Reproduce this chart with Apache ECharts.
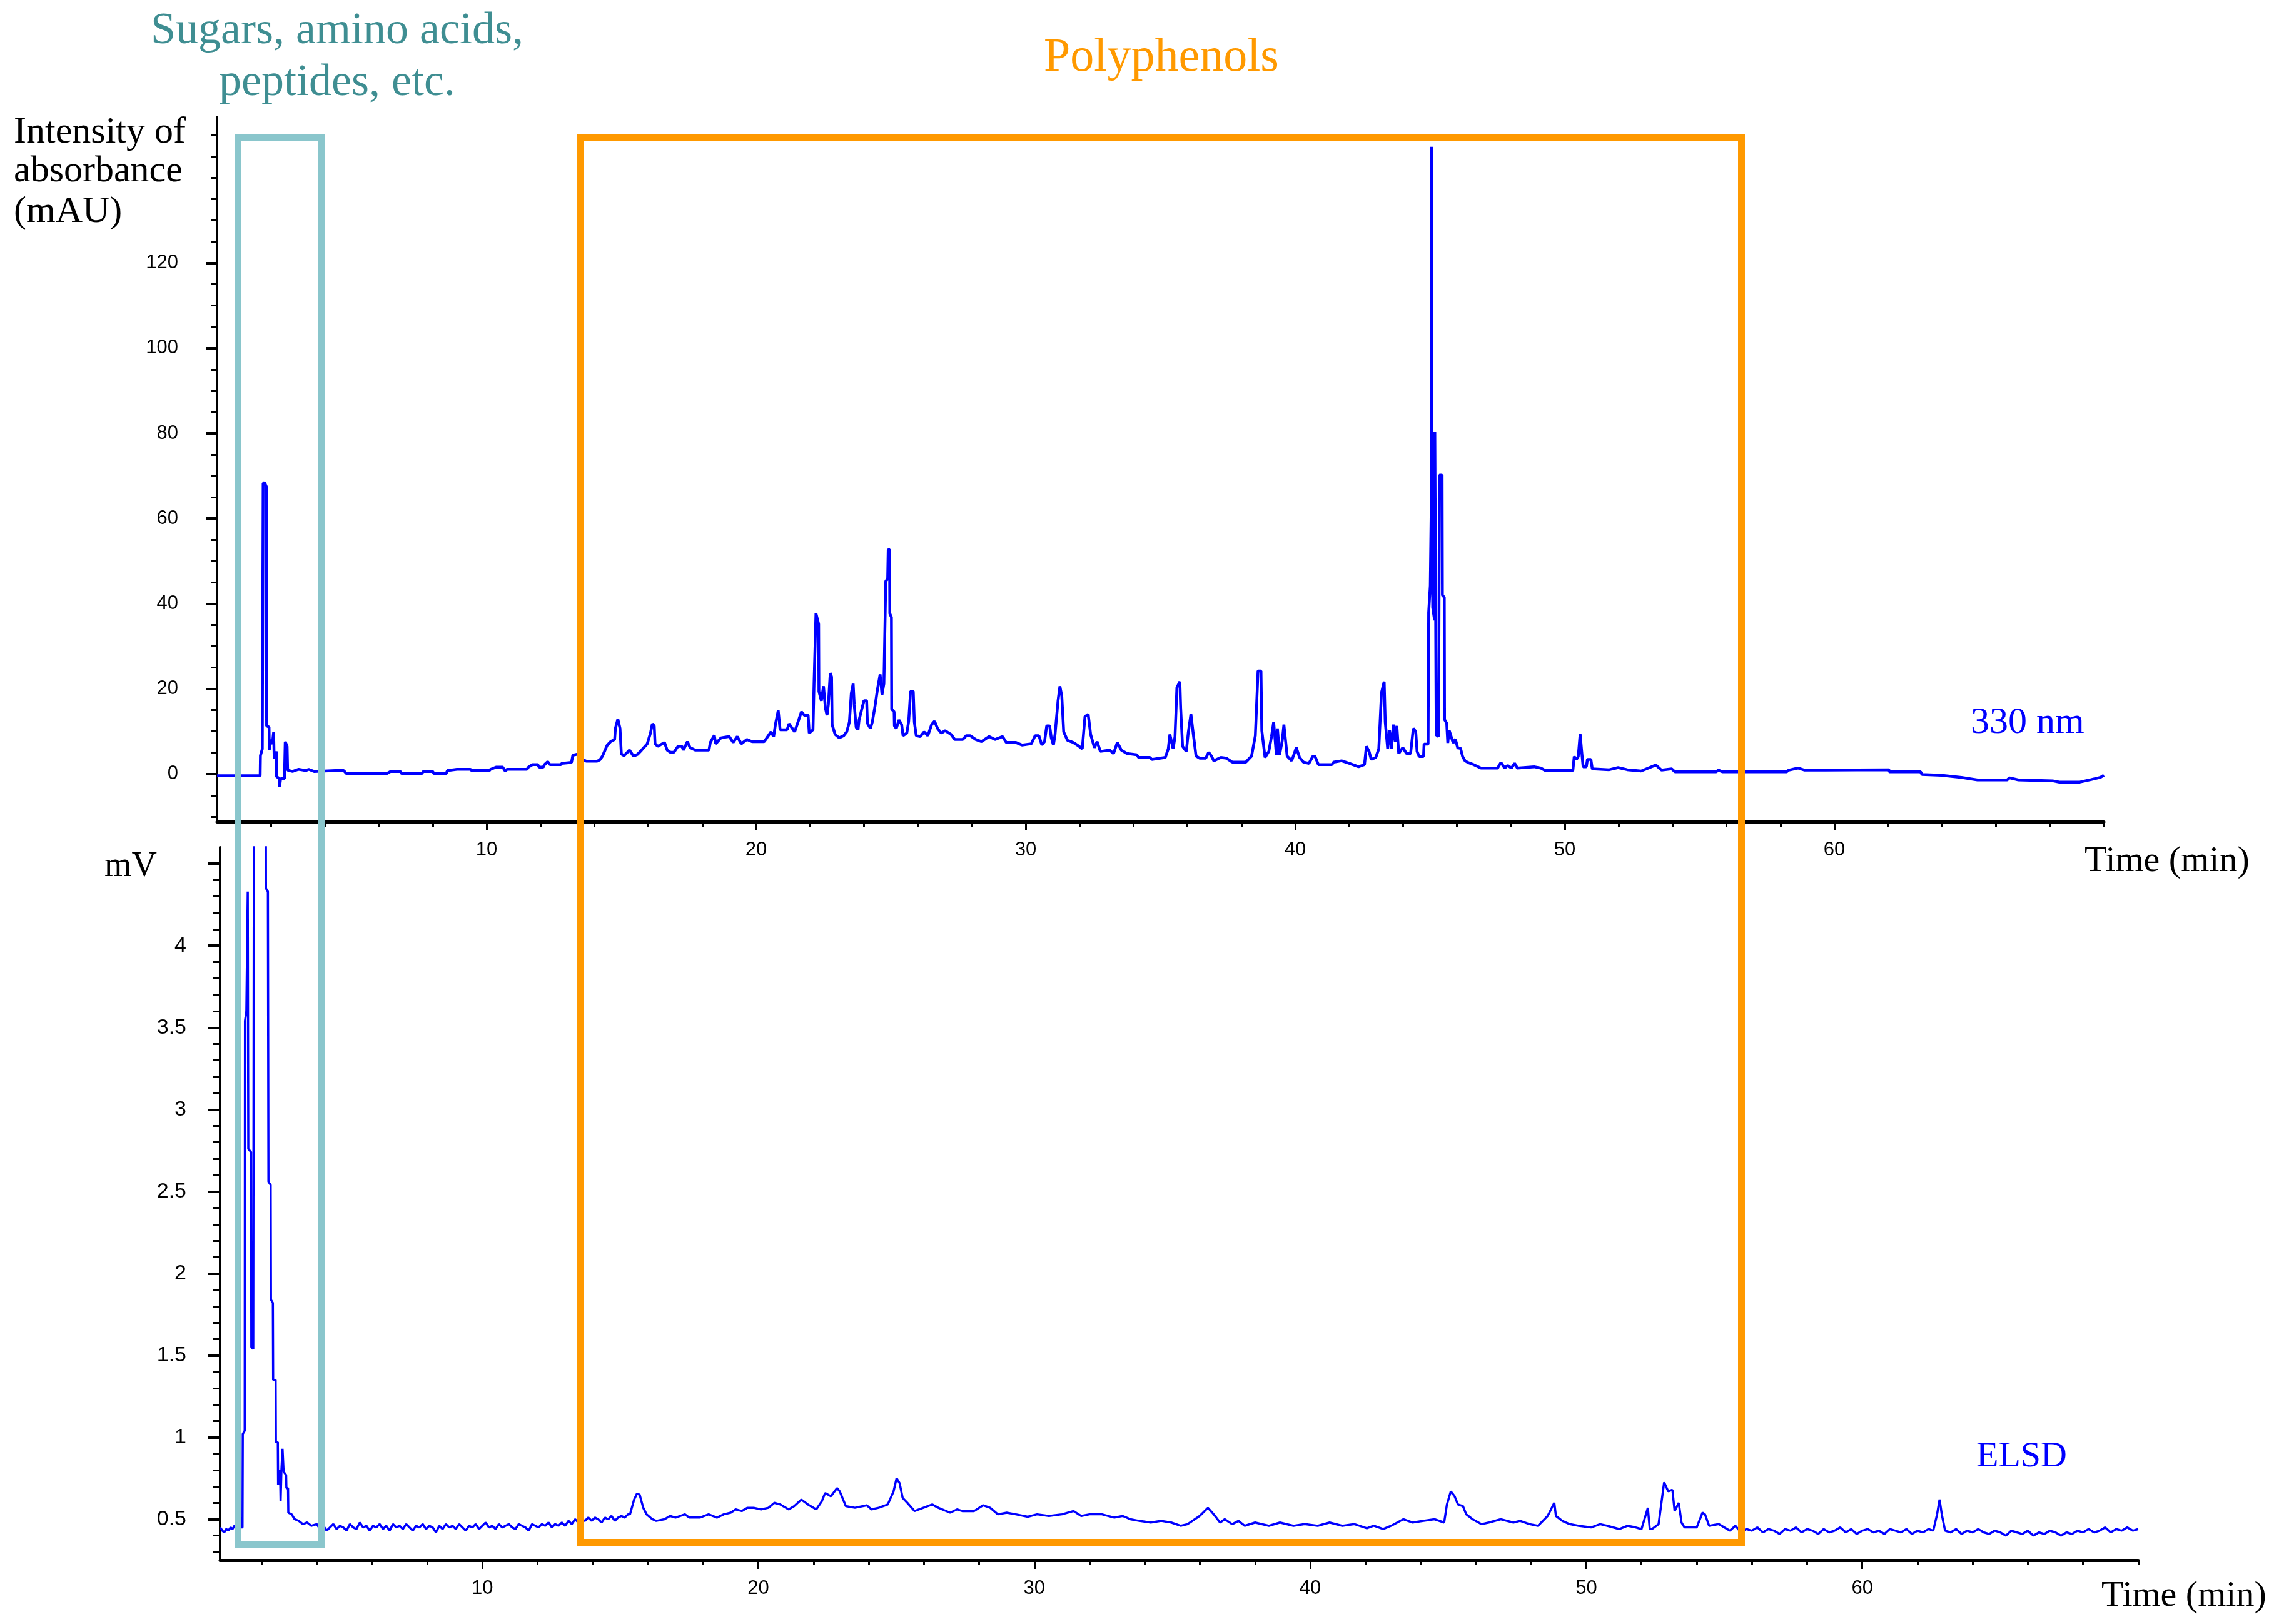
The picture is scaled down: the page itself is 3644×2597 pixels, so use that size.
<!DOCTYPE html>
<html>
<head>
<meta charset="utf-8">
<script src="https://cdn.jsdelivr.net/npm/echarts@6/dist/echarts.min.js"></script>
<style>
  html, body { margin: 0; padding: 0; background: #fff; }
  #chart { width: 3644px; height: 2597px; }
</style>
</head>
<body>
<div id="chart"></div>
<script>
// 330 nm trace (time in min, absorbance in mAU)
const uvTime = [
  0.0, 1.6, 1.61, 1.68, 1.71, 1.76, 1.83, 1.84, 1.93, 1.94, 2.0, 2.05, 2.1, 2.12, 2.2, 2.21, 2.3, 2.32, 2.36, 2.5,
  2.53, 2.6, 2.62, 2.8, 3.03, 3.3, 3.4, 3.6, 4.38, 4.7, 4.8, 6.3, 6.44, 6.8, 6.85, 7.6, 7.65, 8.0, 8.05, 8.5,
  8.55, 8.9, 9.4, 9.45, 10.1, 10.15, 10.35, 10.6, 10.7, 10.75, 11.5, 11.55, 11.7, 11.9, 11.95, 12.1, 12.15, 12.27, 12.35, 12.75,
  12.8, 13.15, 13.2, 13.4, 13.5, 13.7, 14.1, 14.2, 14.3, 14.47, 14.6, 14.75, 14.78, 14.87, 14.95, 15.0, 15.1, 15.3, 15.45, 15.6,
  15.75, 15.96, 16.08, 16.15, 16.22, 16.25, 16.35, 16.6, 16.7, 16.82, 16.95, 17.1, 17.25, 17.3, 17.45, 17.55, 17.74, 18.25, 18.3, 18.45,
  18.5, 18.7, 19.0, 19.15, 19.3, 19.45, 19.66, 19.85, 20.3, 20.4, 20.55, 20.65, 20.72, 20.82, 20.89, 21.15, 21.22, 21.43, 21.58, 21.68,
  21.79, 21.93, 21.97, 22.11, 22.15, 22.22, 22.32, 22.33, 22.42, 22.5, 22.57, 22.63, 22.68, 22.75, 22.8, 22.82, 22.93, 23.08, 23.25, 23.36,
  23.46, 23.53, 23.6, 23.64, 23.71, 23.78, 23.82, 23.91, 24.0, 24.1, 24.13, 24.24, 24.31, 24.41, 24.5, 24.6, 24.67, 24.74, 24.81, 24.88,
  24.9, 24.95, 24.96, 25.02, 25.03, 25.12, 25.13, 25.2, 25.3, 25.4, 25.45, 25.59, 25.66, 25.73, 25.83, 25.87, 25.94, 26.09, 26.23, 26.37,
  26.51, 26.62, 26.73, 26.87, 27.01, 27.23, 27.37, 27.66, 27.8, 27.94, 28.15, 28.36, 28.64, 28.86, 29.14, 29.28, 29.64, 29.86, 30.21, 30.35,
  30.49, 30.6, 30.7, 30.78, 30.89, 30.95, 31.03, 31.09, 31.2, 31.27, 31.34, 31.41, 31.55, 31.77, 31.98, 32.1, 32.2, 32.32, 32.41, 32.55,
  32.65, 32.77, 33.12, 33.26, 33.4, 33.55, 33.76, 34.12, 34.19, 34.61, 34.68, 35.18, 35.29, 35.35, 35.47, 35.54, 35.61, 35.72, 35.75, 35.82,
  35.96, 36.03, 36.13, 36.22, 36.32, 36.46, 36.68, 36.79, 36.89, 36.98, 37.24, 37.45, 37.66, 38.17, 38.38, 38.52, 38.62, 38.73, 38.76, 38.88,
  39.02, 39.12, 39.2, 39.3, 39.34, 39.42, 39.52, 39.58, 39.7, 39.87, 40.04, 40.16, 40.3, 40.51, 40.66, 40.73, 40.86, 41.36, 41.43, 41.72,
  42.0, 42.35, 42.57, 42.64, 42.74, 42.82, 42.99, 43.1, 43.2, 43.3, 43.34, 43.43, 43.5, 43.57, 43.64, 43.71, 43.77, 43.84, 43.99, 44.13,
  44.28, 44.38, 44.47, 44.52, 44.6, 44.76, 44.78, 44.93, 44.95, 45.01, 45.04, 45.06, 45.08, 45.1, 45.17, 45.18, 45.22, 45.23, 45.32, 45.35,
  45.45, 45.46, 45.53, 45.54, 45.62, 45.66, 45.71, 45.79, 45.86, 45.94, 46.03, 46.13, 46.21, 46.3, 46.41, 46.58, 46.89, 47.51, 47.63, 47.77,
  47.88, 48.02, 48.14, 48.24, 48.86, 49.11, 49.28, 50.3, 50.35, 50.43, 50.5, 50.57, 50.63, 50.68, 50.8, 50.84, 50.97, 51.02, 51.65, 51.98,
  52.32, 52.83, 53.38, 53.59, 53.97, 54.09, 55.61, 55.7, 55.86, 58.23, 58.31, 58.65, 58.9, 59.66, 59.7, 62.02, 62.05, 63.2, 63.25, 63.96,
  64.72, 65.31, 66.41, 66.5, 66.83, 68.1, 68.35, 69.11, 69.53, 69.87, 70.0
];
const uvSignal = [
  -0.4, -0.4, 4.3, 5.9, 68.2, 68.5, 67.5, 11.3, 11.0, 5.7, 8.1, 7.0, 9.8, 3.6, 5.3, -0.6, -1.0, -3.1, -1.1, -1.1,
  7.6, 6.5, 0.9, 0.6, 1.1, 0.8, 1.1, 0.6, 0.8, 0.8, 0.1, 0.1, 0.6, 0.6, 0.1, 0.1, 0.6, 0.6, 0.1, 0.1,
  0.8, 1.1, 1.1, 0.8, 0.8, 1.1, 1.6, 1.6, 0.6, 1.1, 1.1, 1.6, 2.2, 2.2, 1.6, 1.6, 2.2, 2.9, 2.2, 2.2,
  2.5, 2.7, 4.4, 4.7, 3.6, 3.0, 3.0, 3.3, 4.2, 6.7, 7.6, 8.1, 10.7, 12.9, 10.7, 4.7, 4.3, 5.6, 4.2, 4.6,
  5.6, 7.1, 9.6, 11.8, 11.3, 7.1, 6.5, 7.4, 5.6, 5.1, 5.1, 6.5, 6.5, 5.6, 7.6, 6.2, 5.6, 5.6, 7.4, 9.1,
  7.1, 8.5, 8.8, 7.4, 8.8, 7.1, 8.1, 7.6, 7.6, 8.5, 9.9, 8.8, 11.8, 14.9, 10.4, 10.4, 11.8, 9.9, 12.7, 14.6,
  13.8, 13.8, 9.6, 10.4, 21.6, 37.7, 35.2, 19.4, 17.2, 20.6, 15.5, 13.8, 16.3, 23.7, 22.8, 11.6, 9.3, 8.5, 9.0, 9.9,
  12.2, 18.9, 21.2, 16.3, 11.0, 10.4, 12.7, 15.0, 17.2, 17.2, 11.9, 10.7, 12.2, 15.9, 19.8, 23.4, 18.6, 21.2, 45.3, 45.8,
  52.7, 52.7, 37.7, 36.8, 15.2, 14.6, 11.3, 10.7, 12.7, 11.6, 9.0, 9.6, 12.4, 19.4, 19.4, 12.2, 9.0, 8.8, 9.9, 9.0,
  11.6, 12.4, 10.7, 9.6, 10.2, 9.3, 8.1, 8.1, 9.0, 9.0, 8.1, 7.6, 8.8, 8.1, 8.8, 7.4, 7.4, 6.8, 7.1, 9.0,
  9.0, 6.8, 7.6, 11.3, 11.3, 8.5, 6.8, 9.3, 17.2, 20.6, 18.3, 9.9, 7.9, 7.4, 6.5, 5.9, 13.5, 14.0, 9.3, 6.2,
  7.6, 5.3, 5.6, 4.8, 7.4, 5.6, 4.8, 4.5, 3.9, 3.9, 3.4, 3.9, 5.9, 9.3, 5.9, 8.8, 20.3, 21.7, 15.5, 6.5,
  5.3, 9.6, 14.1, 9.3, 4.2, 3.7, 3.7, 5.1, 4.2, 3.1, 3.9, 3.7, 2.8, 2.8, 4.2, 9.0, 24.2, 24.2, 10.2, 3.9,
  5.3, 8.8, 12.2, 4.5, 10.7, 4.5, 7.9, 11.6, 4.2, 3.1, 6.2, 3.9, 2.8, 2.5, 4.2, 4.2, 2.2, 2.2, 2.8, 3.1,
  2.5, 1.7, 2.2, 6.5, 5.3, 3.4, 3.9, 5.9, 19.1, 21.7, 12.2, 5.9, 10.2, 5.9, 11.6, 7.6, 11.3, 4.8, 6.2, 4.8,
  4.8, 10.7, 10.0, 5.3, 4.1, 4.1, 7.0, 7.0, 37.9, 44.2, 60.0, 147.3, 60.0, 39.1, 36.1, 80.3, 80.3, 9.2, 8.8, 70.2,
  70.2, 42.0, 41.5, 12.8, 11.9, 7.3, 10.3, 8.7, 7.3, 8.2, 6.1, 6.1, 4.1, 3.1, 2.7, 2.3, 1.4, 1.4, 2.7, 1.4,
  2.0, 1.4, 2.5, 1.4, 1.7, 1.4, 0.8, 0.8, 4.1, 3.4, 4.1, 9.4, 5.1, 1.7, 1.7, 3.4, 3.4, 1.2, 1.0, 1.5,
  1.0, 0.7, 2.1, 0.9, 1.2, 0.5, 0.5, 0.9, 0.5, 0.5, 0.9, 1.4, 0.9, 0.9, 1.0, 1.0, 0.5, 0.5, -0.1, -0.3,
  -0.8, -1.4, -1.4, -0.9, -1.4, -1.6, -1.9, -1.9, -1.3, -0.8, -0.3
];

// ELSD trace (time in min, signal in mV)
const elsdTime = [
  0.5, 0.58, 0.65, 0.72, 0.8, 0.88, 0.95, 1.02, 1.1, 1.2,
  1.31, 1.32, 1.39, 1.4, 1.45, 1.5, 1.52, 1.62, 1.63, 1.7,
  1.73, 2.14, 2.16, 2.23, 2.25, 2.33, 2.34, 2.41, 2.42, 2.51,
  2.52, 2.59, 2.6, 2.67, 2.69, 2.72, 2.76, 2.8, 2.89, 2.9,
  2.96, 2.97, 3.09, 3.2, 3.35, 3.5, 3.65, 3.8,
  4.0, 4.12, 4.24, 4.36, 4.48, 4.6, 4.72, 4.84, 4.96, 5.08,
  5.2, 5.32, 5.44, 5.56, 5.68, 5.8, 5.92, 6.04, 6.16, 6.28,
  6.4, 6.52, 6.64, 6.76, 6.88, 7.0, 7.12, 7.24, 7.36, 7.48,
  7.6, 7.72, 7.84, 7.96, 8.08, 8.2, 8.32, 8.44, 8.56, 8.68,
  8.8, 8.92, 9.04, 9.16, 9.28, 9.4, 9.52, 9.64, 9.76, 9.88,
  10.0, 10.12, 10.24, 10.36, 10.48, 10.6, 10.72, 10.84, 10.96, 11.08,
  11.2, 11.32, 11.44, 11.56, 11.68, 11.8, 11.92, 12.04, 12.16, 12.28,
  12.4, 12.52, 12.64, 12.76, 12.88, 13.0, 13.12, 13.24,
  13.36, 13.48, 13.6, 13.72, 13.84, 13.96, 14.08, 14.2, 14.32, 14.44,
  14.56, 14.68, 14.8, 14.92, 15.04, 15.16, 15.28,
  15.35, 15.5, 15.6, 15.7, 15.83, 15.95, 16.16, 16.3, 16.6, 16.8,
  17.0, 17.34, 17.5, 17.88, 18.2, 18.5, 18.75, 19.0, 19.18, 19.4,
  19.6, 19.83, 20.1, 20.37, 20.58, 20.8, 21.1, 21.3, 21.56, 21.8,
  22.1, 22.3, 22.42, 22.63, 22.85, 22.95, 23.17, 23.5, 23.93, 24.1,
  24.36, 24.69, 24.9, 25.01, 25.12, 25.23, 25.4, 25.66, 25.98, 26.3,
  26.52, 26.95, 27.2, 27.39, 27.82, 28.14, 28.4, 28.68, 29.0, 29.33,
  29.76, 30.1, 30.53, 31.0, 31.42, 31.7, 32.0, 32.45, 32.9, 33.2,
  33.48, 33.8, 34.22, 34.6, 34.96, 35.3, 35.55, 35.99, 36.29, 36.5,
  36.73, 36.9, 37.17, 37.4, 37.62, 38.0, 38.5, 38.9, 39.39, 39.8,
  40.27, 40.7, 41.16, 41.6, 42.05, 42.3, 42.64, 42.93, 43.37, 43.7,
  44.11, 44.5, 44.85, 44.95, 45.09, 45.23, 45.35, 45.53, 45.65, 45.88,
  46.2, 46.47, 46.9, 47.36, 47.6, 47.95, 48.25, 48.6, 48.84, 48.9,
  49.13, 49.4, 49.72, 50.17, 50.5, 50.76, 51.2, 51.5, 51.79, 52.0,
  52.23, 52.3, 52.38, 52.62, 52.82, 52.97, 53.12, 53.2, 53.35, 53.45,
  53.56, 54.0, 54.21, 54.3, 54.45, 54.8,
  55.0, 55.2, 55.4, 55.6, 55.8, 56.0, 56.2, 56.4, 56.6, 56.8,
  57.0, 57.2, 57.4, 57.6, 57.8, 58.0, 58.2, 58.4, 58.6, 58.8,
  59.0, 59.2, 59.4, 59.6, 59.8, 60.0, 60.2, 60.4, 60.6, 60.8,
  61.0, 61.2, 61.4, 61.6, 61.8, 62.0, 62.2, 62.4,
  62.57, 62.71, 62.8, 62.88, 63.0,
  63.2, 63.4, 63.6, 63.8, 64.0, 64.2, 64.4, 64.6, 64.8, 65.0,
  65.2, 65.4, 65.6, 65.8, 66.0, 66.2, 66.4, 66.6, 66.8, 67.0,
  67.2, 67.4, 67.6, 67.8, 68.0, 68.2, 68.4, 68.6, 68.8, 69.0,
  69.2, 69.4, 69.6, 69.8, 70.0
];
const elsdSignal = [
  0.45, 0.43, 0.42, 0.44, 0.43, 0.45, 0.44, 0.46, 0.44, 0.45,
  0.45, 1.02, 1.04, 3.54, 3.6, 4.33, 2.76, 2.74, 1.55, 1.54,
  6.0, 6.0, 4.35, 4.33, 2.56, 2.54, 1.84, 1.82, 1.35, 1.35,
  0.97, 0.97, 0.71, 0.8, 0.61, 0.8, 0.93, 0.79, 0.77, 0.69,
  0.69, 0.54, 0.53, 0.5, 0.49, 0.47, 0.48, 0.46,
  0.47, 0.44, 0.46, 0.43, 0.45, 0.47, 0.44, 0.46, 0.45, 0.43,
  0.47, 0.45, 0.44, 0.48, 0.45, 0.46, 0.43, 0.46, 0.45, 0.47,
  0.44, 0.46, 0.43, 0.47, 0.45, 0.46, 0.44, 0.47, 0.45, 0.43,
  0.46, 0.45, 0.47, 0.44, 0.46, 0.45, 0.42, 0.46, 0.44, 0.47,
  0.45, 0.46, 0.44, 0.47, 0.45, 0.43, 0.46, 0.45, 0.47, 0.44,
  0.46, 0.48, 0.45, 0.46, 0.44, 0.47, 0.45, 0.46, 0.47, 0.45,
  0.44, 0.47, 0.46, 0.45, 0.43, 0.47, 0.46, 0.45, 0.47, 0.46,
  0.48, 0.45, 0.47, 0.46, 0.48, 0.46, 0.49, 0.47,
  0.5, 0.48, 0.5, 0.49, 0.51, 0.49, 0.51, 0.5, 0.48, 0.51,
  0.5, 0.52, 0.49, 0.51, 0.52, 0.51, 0.53,
  0.53, 0.62, 0.655, 0.65, 0.57, 0.53, 0.5, 0.49, 0.5, 0.52,
  0.51, 0.53, 0.51, 0.51, 0.53, 0.51, 0.53, 0.54, 0.56, 0.55,
  0.57, 0.57, 0.56, 0.57, 0.6, 0.59, 0.56, 0.58, 0.62, 0.59,
  0.56, 0.61, 0.66, 0.64, 0.69, 0.67, 0.58, 0.57, 0.585, 0.56,
  0.57, 0.59, 0.67, 0.75, 0.72, 0.63, 0.6, 0.55, 0.57, 0.59,
  0.57, 0.54, 0.56, 0.55, 0.55, 0.585, 0.57, 0.53, 0.54, 0.53,
  0.515, 0.53, 0.52, 0.53, 0.55, 0.52, 0.53, 0.53, 0.51, 0.52,
  0.5, 0.49, 0.48, 0.49, 0.48, 0.46, 0.47, 0.52, 0.57, 0.53,
  0.48, 0.5, 0.47, 0.49, 0.46, 0.48, 0.46, 0.48, 0.46, 0.47,
  0.46, 0.48, 0.46, 0.47, 0.445, 0.46, 0.44, 0.46, 0.5, 0.48,
  0.49, 0.5, 0.48, 0.59, 0.67, 0.64, 0.59, 0.58, 0.53, 0.5,
  0.47, 0.48, 0.5, 0.48, 0.49, 0.47, 0.46, 0.52, 0.6, 0.52,
  0.49, 0.47, 0.46, 0.45, 0.47, 0.46, 0.44, 0.46, 0.45, 0.44,
  0.57, 0.44, 0.44, 0.47, 0.725, 0.67, 0.68, 0.55, 0.6, 0.48,
  0.45, 0.45, 0.54, 0.53, 0.46, 0.47,
  0.45, 0.43, 0.46, 0.42, 0.44, 0.43, 0.45, 0.42, 0.44, 0.43,
  0.41, 0.44, 0.43, 0.45, 0.42, 0.44, 0.43, 0.41, 0.44, 0.42,
  0.43, 0.45, 0.42, 0.44, 0.41, 0.43, 0.44, 0.42, 0.43, 0.41,
  0.44, 0.43, 0.42, 0.44, 0.41, 0.43, 0.42, 0.44,
  0.43, 0.53, 0.62, 0.53, 0.43,
  0.42, 0.44, 0.41, 0.43, 0.42, 0.44, 0.42, 0.41, 0.43, 0.42,
  0.4, 0.43, 0.42, 0.41, 0.43, 0.4, 0.42, 0.41, 0.43, 0.42,
  0.4, 0.42, 0.41, 0.43, 0.42, 0.44, 0.42, 0.43, 0.45, 0.42,
  0.44, 0.43, 0.45, 0.43, 0.44
];

// axis ticks and labels
const uvMajorTicks = [0, 20, 40, 60, 80, 100, 120];
const elsdMajorTicks = [0.5, 1, 1.5, 2, 2.5, 3, 3.5, 4, 4.5];
const elsdTickLabels = [0.5, 1, 1.5, 2, 2.5, 3, 3.5, 4];
const timeMajorTicks = [10, 20, 30, 40, 50, 60];

const uvMinorTicks = [];
for (let v = -10; v <= 150; v += 5) uvMinorTicks.push(v);
const elsdMinorTicks = [];
for (let i = 3; i <= 45; i++) elsdMinorTicks.push(i / 10);
const timeMinorTicks = [];
for (let t = 2; t <= 70; t += 2) timeMinorTicks.push(t);

const uvData = uvTime.map((t, i) => [t, uvSignal[i]]);
const elsdData = elsdTime.map((t, i) => [t, elsdSignal[i]]);

const blue = "#0000ff";
const labelFont = { color: "#000", fontFamily: "Liberation Sans, Arial, sans-serif" };
const serif = "Liberation Serif, Times New Roman, serif";

function majorX(grid, min) {
  return {
    type: "value", gridIndex: grid, min, max: 70, position: "bottom",
    axisLine: { onZero: false, lineStyle: { color: "#000", width: 5 } },
    axisTick: { customValues: timeMajorTicks, length: 14, lineStyle: { color: "#000", width: 3 } },
    axisLabel: { customValues: timeMajorTicks, fontSize: 31, margin: 30, ...labelFont },
    splitLine: { show: false },
  };
}
function minorX(grid, min) {
  return {
    type: "value", gridIndex: grid, min, max: 70, position: "bottom",
    axisLine: { show: false, onZero: false },
    axisTick: { customValues: timeMinorTicks, length: 8, lineStyle: { color: "#000", width: 3 } },
    axisLabel: { show: false },
    splitLine: { show: false },
  };
}
function minorY(grid, min, max, ticks, len) {
  return {
    type: "value", gridIndex: grid, min, max, position: "left",
    axisLine: { show: false, onZero: false },
    axisTick: { show: true, customValues: ticks, length: len, lineStyle: { color: "#000", width: 3 } },
    axisLabel: { show: false },
    splitLine: { show: false },
  };
}

const chart = echarts.init(document.getElementById("chart"), null, { renderer: "canvas" });
chart.setOption({
  animation: false,
  backgroundColor: "#fff",
  grid: [
    { left: 347, right: 280, top: 187, bottom: 1283 },
    { left: 352, right: 225, top: 1355, bottom: 102 },
  ],
  xAxis: [majorX(0, 0), minorX(0, 0), majorX(1, 0.5), minorX(1, 0.5)],
  yAxis: [
    {
      type: "value", gridIndex: 0, min: -11.2, max: 154.3, position: "left",
      axisLine: { show: true, onZero: false, lineStyle: { color: "#000", width: 4 } },
      axisTick: { show: true, customValues: uvMajorTicks, length: 18, lineStyle: { color: "#000", width: 4 } },
      axisLabel: { customValues: uvMajorTicks, fontSize: 31, margin: 62, ...labelFont },
      splitLine: { show: false },
    },
    minorY(0, -11.2, 154.3, uvMinorTicks, 9),
    {
      type: "value", gridIndex: 1, min: 0.25, max: 4.6, position: "left",
      axisLine: { show: true, onZero: false, lineStyle: { color: "#000", width: 4 } },
      axisTick: { show: true, customValues: elsdMajorTicks, length: 20, lineStyle: { color: "#000", width: 4 } },
      axisLabel: { customValues: elsdTickLabels, fontSize: 34, margin: 54, formatter: (v) => String(v), ...labelFont },
      splitLine: { show: false },
    },
    minorY(1, 0.25, 4.6, elsdMinorTicks, 12),
  ],
  series: [
    {
      name: "330 nm", type: "line", xAxisIndex: 0, yAxisIndex: 0, data: uvData,
      showSymbol: false, clip: true, lineStyle: { color: blue, width: 4.5 },
    },
    {
      name: "ELSD", type: "line", xAxisIndex: 2, yAxisIndex: 2, data: elsdData,
      showSymbol: false, clip: true, lineStyle: { color: blue, width: 3.5 },
    },
  ],
  graphic: [
    { type: "rect", z: 100, shape: { x: 380.5, y: 219.5, width: 133, height: 2251 },
      style: { fill: "none", stroke: "#8ac6cc", lineWidth: 11 } },
    { type: "rect", z: 100, shape: { x: 928.5, y: 219.5, width: 1856, height: 2247 },
      style: { fill: "none", stroke: "#ff9900", lineWidth: 11 } },
    { type: "text", z: 100, x: 539, y: 50,
      style: { text: "Sugars, amino acids,", fontSize: 72, fontFamily: serif, fill: "#3f8e92", textAlign: "center", textVerticalAlign: "middle" } },
    { type: "text", z: 100, x: 539, y: 133,
      style: { text: "peptides, etc.", fontSize: 72, fontFamily: serif, fill: "#3f8e92", textAlign: "center", textVerticalAlign: "middle" } },
    { type: "text", z: 100, x: 1857, y: 93,
      style: { text: "Polyphenols", fontSize: 76, fontFamily: serif, fill: "#ff9900", textAlign: "center", textVerticalAlign: "middle" } },
    { type: "text", z: 100, x: 22, y: 212,
      style: { text: "Intensity of", fontSize: 60, fontFamily: serif, fill: "#000", textAlign: "left", textVerticalAlign: "middle" } },
    { type: "text", z: 100, x: 22, y: 274,
      style: { text: "absorbance", fontSize: 60, fontFamily: serif, fill: "#000", textAlign: "left", textVerticalAlign: "middle" } },
    { type: "text", z: 100, x: 22, y: 339,
      style: { text: "(mAU)", fontSize: 60, fontFamily: serif, fill: "#000", textAlign: "left", textVerticalAlign: "middle" } },
    { type: "text", z: 100, x: 167, y: 1386,
      style: { text: "mV", fontSize: 56, fontFamily: serif, fill: "#000", textAlign: "left", textVerticalAlign: "middle" } },
    { type: "text", z: 100, x: 3151, y: 1156,
      style: { text: "330 nm", fontSize: 60, fontFamily: serif, fill: blue, textAlign: "left", textVerticalAlign: "middle" } },
    { type: "text", z: 100, x: 3160, y: 2330,
      style: { text: "ELSD", fontSize: 58, fontFamily: serif, fill: blue, textAlign: "left", textVerticalAlign: "middle" } },
    { type: "text", z: 100, x: 3333, y: 1378,
      style: { text: "Time (min)", fontSize: 58, fontFamily: serif, fill: "#000", textAlign: "left", textVerticalAlign: "middle" } },
    { type: "text", z: 100, x: 3360, y: 2553,
      style: { text: "Time (min)", fontSize: 58, fontFamily: serif, fill: "#000", textAlign: "left", textVerticalAlign: "middle" } },
  ],
});
window.addEventListener("resize", () => chart.resize());
</script>
</body>
</html>
